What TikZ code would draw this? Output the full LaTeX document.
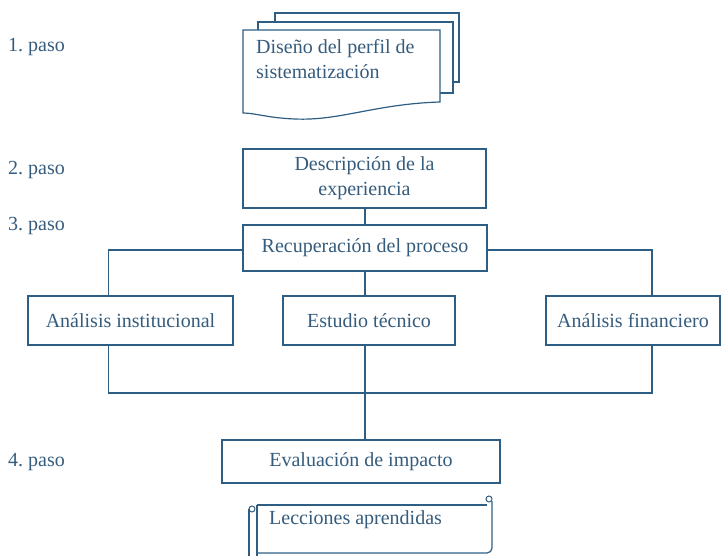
\documentclass[tikz,border=0pt]{standalone}
\usepackage{fontspec}
\setmainfont{Liberation Serif}
\frenchspacing
\definecolor{ink}{HTML}{2E5E84}
\definecolor{txt}{HTML}{355C7D}
\begin{document}
\begin{tikzpicture}[x=1pt,y=-1pt,
  every node/.style={text=txt,font=\fontsize{20}{25}\selectfont},
  line/.style={draw=ink,line width=1.2pt},
  box/.style={line,fill=white,inner sep=0pt,align=center},
  steplabel/.style={anchor=west,inner sep=0pt}]
\useasboundingbox (0,0) rectangle (723,556);

% step labels
\node[steplabel] (p1) at (8,47) {1. paso};
\node[steplabel] (p2) at (8,170) {2. paso};
\node[steplabel] (p3) at (8,226) {3. paso};
\node[steplabel] (p4) at (8,462) {4. paso};

% stacked documents: back, middle, front
\fill[white] (275,13) rectangle (459,82);
\draw[line] (275,30) -- (275,13) -- (459,13) -- (459,82) -- (453,82);
\fill[white] (258,22) rectangle (453,93);
\draw[line] (258,30) -- (258,22) -- (453,22) -- (453,93) -- (440,93);
\filldraw[line,fill=white] (243,30) -- (440,30) -- (440,102)
  .. controls (375,104) and (340,121) .. (295,119)
  .. controls (268,118) and (255,113) .. (243,113) -- cycle;
\node[anchor=west,align=left,inner sep=0pt] (perfil) at (256,59)
  {Diseño del perfil de\\sistematización};

% process boxes
\node[box,minimum width=243pt,minimum height=59pt] (desc) at (364.5,178.5)
  {Descripción de la\\experiencia};
\node[box,minimum width=244pt,minimum height=46pt] (rec) at (365,248)
  {Recuperación del proceso};
\node[box,minimum width=205pt,minimum height=49pt] (anA) at (130.5,320.5)
  {Análisis institucional};
\node[box,minimum width=172pt,minimum height=49pt] (est) at (369,320.5)
  {Estudio técnico};
\node[box,minimum width=174pt,minimum height=49pt] (anC) at (633,320.5)
  {Análisis financiero};
\node[box,minimum width=278pt,minimum height=43pt] (eval) at (361,461.5)
  {Evaluación de impacto};

% connectors
\coordinate (bus) at (365,393);
\draw[line] (desc.south -| bus) -- (rec.north -| bus);
\draw[line] ([yshift=-2pt]rec.west) -| ([xshift=-22pt]anA.north);
\draw[line] ([yshift=-2pt]rec.east) -| ([xshift=19pt]anC.north);
\draw[line] (rec.south -| bus) -- (est.north -| bus);
\draw[line] ([xshift=-22pt]anA.south) |- (bus) -| ([xshift=19pt]anC.south);
\draw[line] (est.south -| bus) -- (bus) -- (eval.north -| bus);

% scroll with lessons learned
\draw[line] (257,505) -- (487,505);
\draw[line] (492,501) -- (492,548) arc[start angle=0,end angle=90,radius=5] -- (257,553);
\draw[line] (249,509) -- (249,556);
\draw[line] (257,505) -- (257,556);
\draw[line,line width=1pt] (252,509) circle[radius=3];
\draw[line,line width=1pt] (489,499) circle[radius=3];
\node[anchor=west,inner sep=0pt] (lecc) at (269,520) {Lecciones aprendidas};
\end{tikzpicture}
\end{document}
